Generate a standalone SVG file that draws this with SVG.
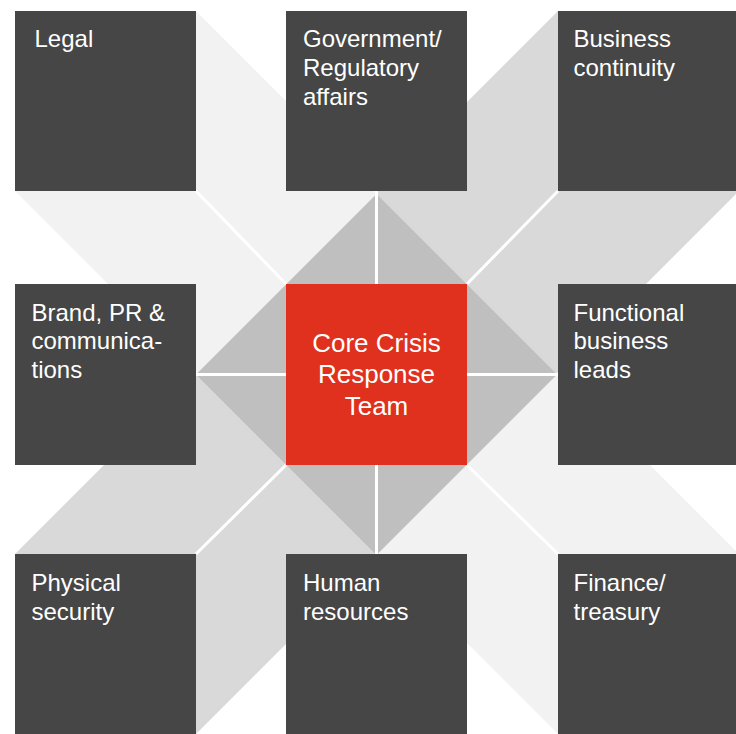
<svg xmlns="http://www.w3.org/2000/svg" width="736" height="734" viewBox="0 0 736 734">
<style>
.box{fill:#464646}
.lbl{fill:#ffffff;font-family:"Liberation Sans",Arial,sans-serif;font-size:24px}
.core{fill:#ffffff;font-family:"Liberation Sans",Arial,sans-serif;font-size:26px;text-anchor:middle}
.wl{stroke:#ffffff;stroke-width:3;fill:none}
</style>
<rect width="736" height="734" fill="#ffffff"/>
<g id="background">
<polygon fill="#f2f2f2" points="15,11 196,11 376.5,191.5 376.5,374.5 198.5,374.5 15,191"/>
<polygon fill="#f2f2f2" points="376.5,374.5 559.5,374.5 739,554 739,734 558,734 376.5,552.5"/>
<polygon fill="#d9d9d9" points="558,11 739,11 739,191 555.5,374.5 376.5,374.5 376.5,192.5"/>
<polygon fill="#d9d9d9" points="376.5,374.5 376.5,553.5 196,734 15,734 15,554 194.5,374.5"/>
<polygon fill="#bfbfbf" points="376.5,194 557,374.5 376.5,555 196,374.5"/>
</g>
<g id="connectors">
<line class="wl" x1="376.5" y1="191" x2="376.5" y2="554"/>
<line class="wl" x1="196" y1="374.5" x2="558" y2="374.5"/>
<line class="wl" x1="196" y1="191" x2="286" y2="284"/>
<line class="wl" x1="558" y1="191" x2="467" y2="284"/>
<line class="wl" x1="467" y1="465" x2="558" y2="554"/>
<line class="wl" x1="286" y1="465" x2="196" y2="554"/>
</g>
<g id="legal"><rect class="box" x="15" y="11" width="181" height="180"/><text class="lbl" x="34.5" y="47">Legal</text></g>
<g id="government"><rect class="box" x="286" y="11" width="181" height="180"/><text class="lbl" x="303" y="47">Government/<tspan x="303" dy="28.8">Regulatory</tspan><tspan x="303" dy="28.8">affairs</tspan></text></g>
<g id="business-continuity"><rect class="box" x="558" y="11" width="181" height="180"/><text class="lbl" x="573.5" y="47">Business<tspan x="573.5" dy="28.8">continuity</tspan></text></g>
<g id="brand"><rect class="box" x="15" y="284" width="181" height="181"/><text class="lbl" x="31.5" y="320.5">Brand, PR &amp;<tspan x="31.5" dy="28.8">communica-</tspan><tspan x="31.5" dy="28.8">tions</tspan></text></g>
<g id="core"><rect x="286" y="284" width="181" height="181" fill="#e0301e"/><text class="core" x="376.5" y="351.5">Core Crisis<tspan x="376.5" dy="31.5">Response</tspan><tspan x="376.5" dy="31.5">Team</tspan></text></g>
<g id="functional"><rect class="box" x="558" y="284" width="181" height="181"/><text class="lbl" x="573.5" y="320.5">Functional<tspan x="573.5" dy="28.8">business</tspan><tspan x="573.5" dy="28.8">leads</tspan></text></g>
<g id="physical"><rect class="box" x="15" y="554" width="181" height="180"/><text class="lbl" x="31.5" y="591">Physical<tspan x="31.5" dy="28.8">security</tspan></text></g>
<g id="hr"><rect class="box" x="286" y="554" width="181" height="180"/><text class="lbl" x="303" y="591">Human<tspan x="303" dy="28.8">resources</tspan></text></g>
<g id="finance"><rect class="box" x="558" y="554" width="181" height="180"/><text class="lbl" x="573.5" y="591">Finance/<tspan x="573.5" dy="28.8">treasury</tspan></text></g>
</svg>
